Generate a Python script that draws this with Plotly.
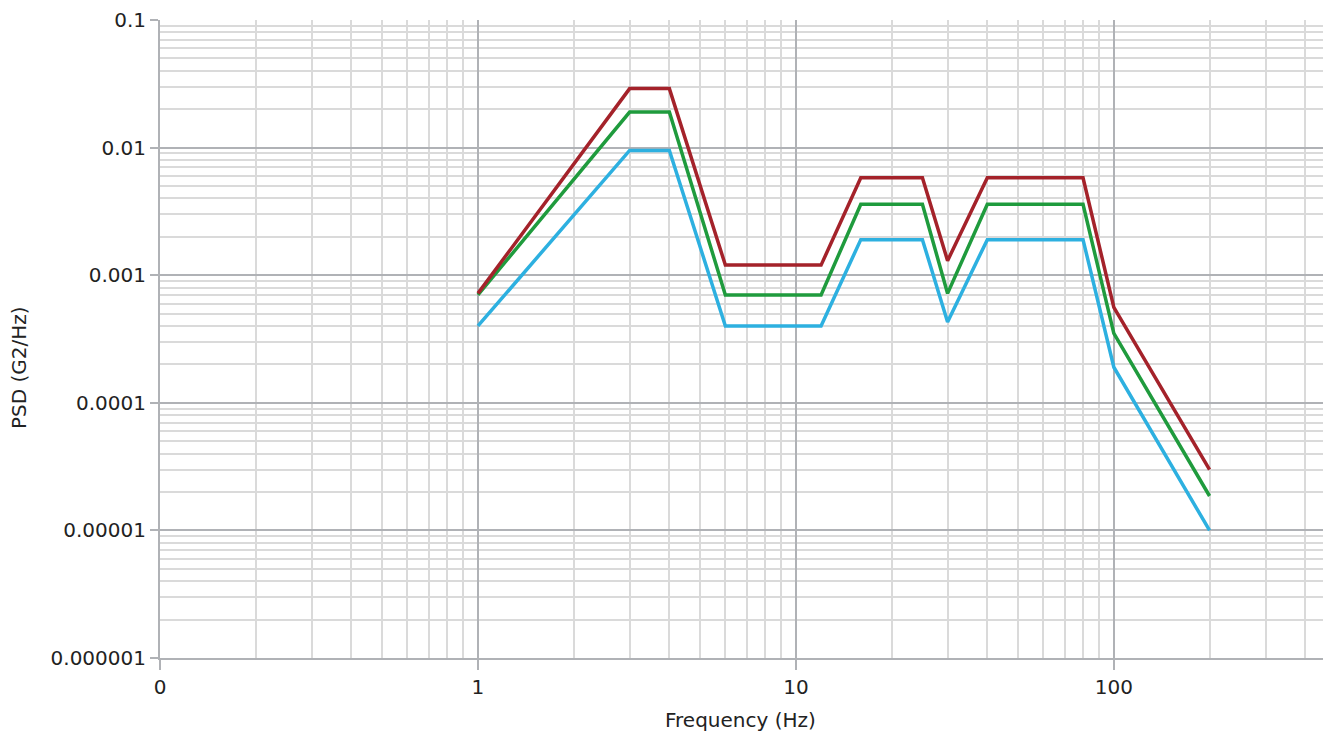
import plotly.graph_objects as go

freq = [1, 3, 4, 6, 12, 16, 25, 30, 40, 80, 100, 200]
psd_red = [0.00072, 0.029, 0.029, 0.0012, 0.0012, 0.0058, 0.0058, 0.0013, 0.0058, 0.0058, 0.00056, 0.00003]
psd_green = [0.0007, 0.019, 0.019, 0.0007, 0.0007, 0.0036, 0.0036, 0.00072, 0.0036, 0.0036, 0.00035, 0.0000186]
psd_blue = [0.0004, 0.0095, 0.0095, 0.0004, 0.0004, 0.0019, 0.0019, 0.00043, 0.0019, 0.0019, 0.00019, 0.00001]

x_tickvals = [0.1, 1, 10, 100]
x_ticktext = ["0", "1", "10", "100"]
y_tickvals = [0.1, 0.01, 0.001, 0.0001, 0.00001, 0.000001]
y_ticktext = ["0.1", "0.01", "0.001", "0.0001", "0.00001", "0.000001"]

FONT = "DejaVu Sans"
fig = go.Figure()
for ys, col in [(psd_blue, "#2DB0E0"), (psd_green, "#1F9B3D"), (psd_red, "#A4222A")]:
    fig.add_trace(go.Scatter(x=freq, y=ys, mode="lines",
                             line=dict(color=col, width=3.5), showlegend=False,
                             hoverinfo="x+y"))

grid_major = "#b0b2b6"
grid_minor = "#dadada"
fig.update_layout(
    width=1323, height=732,
    margin=dict(l=152, r=0, t=12, b=82),
    paper_bgcolor="white", plot_bgcolor="white",
    showlegend=False,
    font=dict(family=FONT, size=20, color="#222"),
    xaxis=dict(type="log", range=[-1, 2.683], automargin=False,
               tickmode="array", tickvals=x_tickvals, ticktext=x_ticktext,
               showgrid=True, gridcolor=grid_major, gridwidth=2,
               ticks="outside", ticklen=10, tickcolor=grid_major, tickwidth=2,
               showline=True, linecolor=grid_major, linewidth=2,
               zeroline=False,
               minor=dict(dtick="D1", showgrid=True, gridcolor=grid_minor, gridwidth=2, ticks=""),
               tickfont=dict(family=FONT, size=20, color="#222")),
    yaxis=dict(type="log", range=[-6, -1], automargin=False,
               tickmode="array", tickvals=y_tickvals, ticktext=y_ticktext,
               showgrid=True, gridcolor=grid_major, gridwidth=2,
               ticks="outside", ticklen=8, tickcolor=grid_major, tickwidth=2,
               showline=True, linecolor=grid_major, linewidth=2,
               zeroline=False,
               minor=dict(dtick="D1", showgrid=True, gridcolor=grid_minor, gridwidth=2, ticks=""),
               tickfont=dict(family=FONT, size=20, color="#222")),
    annotations=[
        dict(text="Frequency (Hz)", xref="paper", yref="paper",
             x=(740 - 160) / 1171, y=(658 - 720) / 638, xanchor="center", yanchor="middle",
             showarrow=False, font=dict(family=FONT, size=20, color="#222")),
        dict(text="PSD (G2/Hz)", xref="paper", yref="paper", textangle=-90,
             x=(19 - 160) / 1171, y=(658 - 368) / 638, xanchor="center", yanchor="middle",
             showarrow=False, font=dict(family=FONT, size=20, color="#222")),
    ],
)
fig.write_html("out.html")
